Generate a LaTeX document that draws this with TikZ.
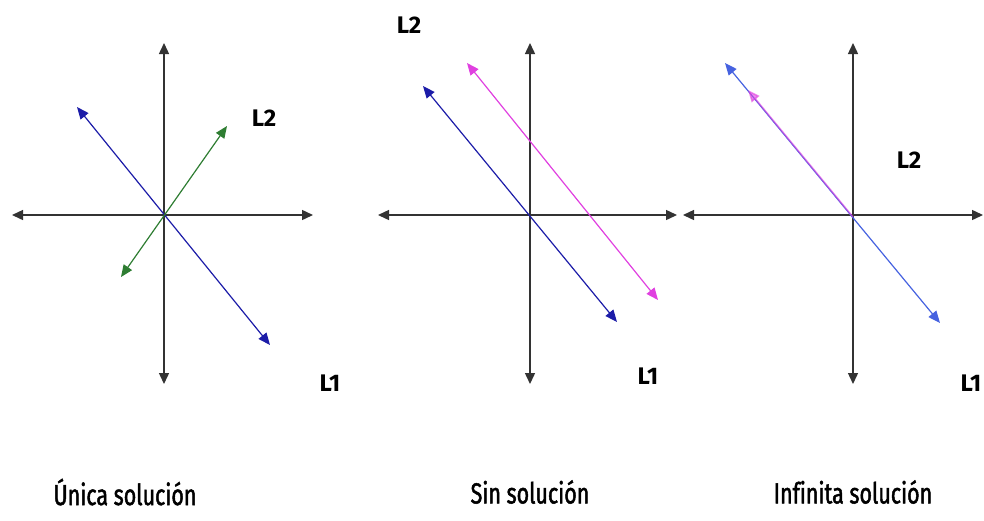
\documentclass[tikz,border=0pt]{standalone}
\usepackage{fontspec}
\setmainfont{Fira Sans}
\newfontfamily\capfont[FakeStretch=0.74, FakeBold=1.6, Ligatures=NoCommon]{Fira Sans}
\usepackage{tikz}
\usetikzlibrary{arrows.meta, positioning}
\definecolor{lineblue}{HTML}{1C1CA8}
\definecolor{lightblue}{HTML}{4662E0}
\definecolor{linegreen}{HTML}{2E7D32}
\definecolor{linepink}{HTML}{E040E0}
\definecolor{axisgray}{HTML}{333333}

\tikzset{
    axis/.style={axisgray, line width=1.4pt, {Triangle[length=11pt, width=10pt]}-{Triangle[length=11pt, width=10pt]}},
    rect/.style={line width=1.2pt, {Triangle[length=12pt, width=10pt]}-{Triangle[length=12pt, width=10pt]}},
    lbl/.style={font=\fontsize{24}{26}\selectfont\bfseries},
    caption/.style={font=\capfont\fontsize{29}{32}\selectfont}
}

\begin{document}
\begin{tikzpicture}[x=1pt, y=-1pt]
    \useasboundingbox (0, 0) rectangle (984, 520);

    % Axes of the three panels
    \foreach \ox/\l/\r/\n in {164/12/313/a, 530/378/677/b, 853/683/983/c}{
        \coordinate (top\n) at (\ox, 43);
        \coordinate (bot\n) at (\ox, 384);
        \coordinate (lft\n) at (\l, 215);
        \coordinate (rgt\n) at (\r, 215);
        \draw[axis] (bot\n) -- (top\n);
        \draw[axis] (lft\n) -- (rgt\n);
    }

    % Unica solucion
    \coordinate (ua1) at (77, 107);
    \coordinate (ub1) at (270, 345);
    \coordinate (ua2) at (121, 277);
    \coordinate (ub2) at (227, 126);
    \draw[rect, lineblue] (ua1) -- (ub1);
    \draw[rect, linegreen] (ua2) -- (ub2);
    \node[lbl] (l2a) at (264, 118) {L2};
    \node[lbl] (l1a) at (330, 383) {L1};

    % Sin solucion
    \coordinate (sa1) at (423, 86);
    \coordinate (sb1) at (617, 322);
    \coordinate (sa2) at (467, 63);
    \coordinate (sb2) at (658, 300);
    \draw[rect, lineblue] (sa1) -- (sb1);
    \draw[rect, linepink] (sa2) -- (sb2);
    \node[lbl] (l2b) at (409, 25) {L2};
    \node[lbl] (l1b) at (648, 376) {L1};

    % Infinita solucion
    \coordinate (ia1) at (725, 63);
    \coordinate (ib1) at (940, 323);
    \coordinate (ia2) at (748, 90);
    \coordinate (ib2) at (853, 217);
    \draw[rect, lightblue] (ia1) -- (ib1);
    \draw[line width=1.6pt, linepink, opacity=0.6, {Triangle[length=12pt, width=10pt]}-] (ia2) -- (ib2);
    \node[lbl] (l2c) at (909, 160) {L2};
    \node[lbl] (l1c) at (971, 383) {L1};

    % Captions
    \node[caption] (capa) at (125, 492) {Única solución};
    \node[caption] (capb) at (530, 492) {Sin solución};
    \node[caption] (capc) at (853, 492) {Infinita solución};
\end{tikzpicture}
\end{document}
